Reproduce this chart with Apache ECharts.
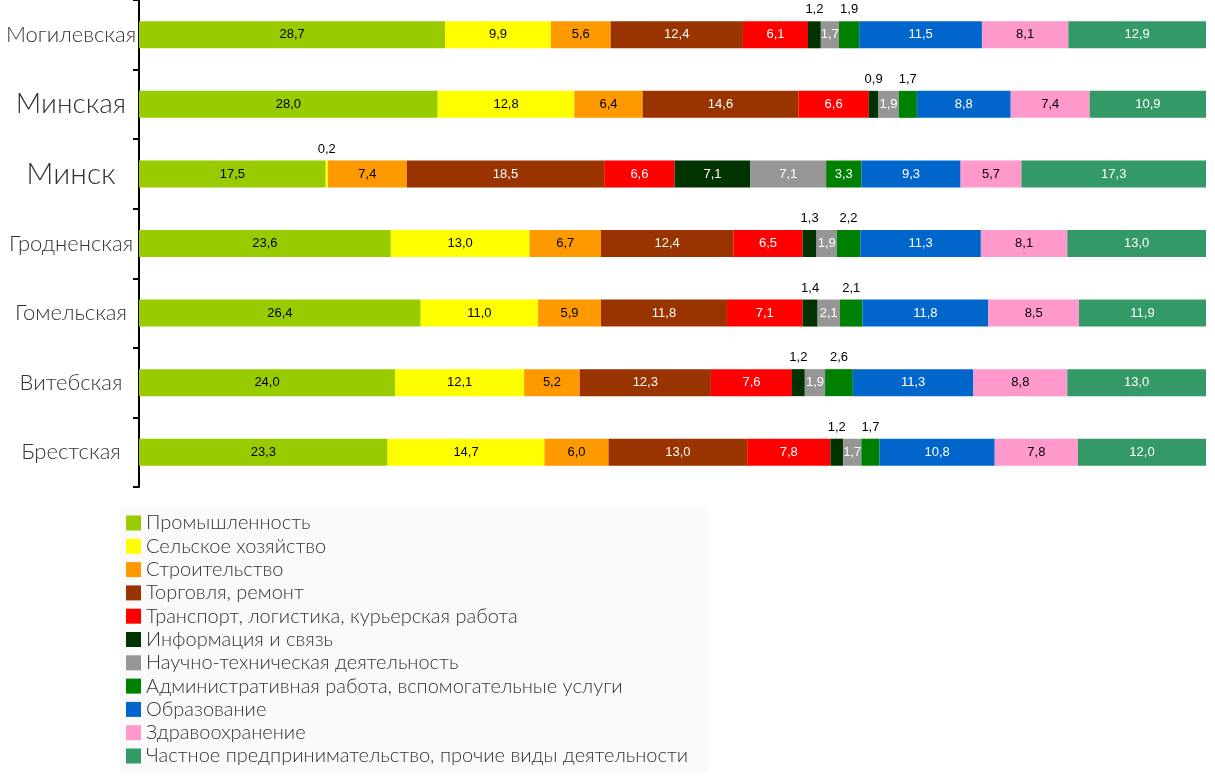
<!DOCTYPE html>
<html><head><meta charset="utf-8">
<script src="https://cdn.jsdelivr.net/npm/echarts@6/dist/echarts.min.js"></script>
<style>html,body{margin:0;padding:0;background:#fff}#c{width:1215px;height:779px}</style>
</head><body><div id="c"></div>
<script>
const categories = ['Брестская','Витебская','Гомельская','Гродненская','Минск','Минская','Могилевская'];
const seriesNames = ['Промышленность','Сельское хозяйство','Строительство','Торговля, ремонт','Транспорт, логистика, курьерская работа','Информация и связь','Научно-техническая деятельность','Административная работа, вспомогательные услуги','Образование','Здравоохранение','Частное предпринимательство, прочие виды деятельности'];
const industry  = [23.3, 24.0, 26.4, 23.6, 17.5, 28.0, 28.7];
const agri      = [14.7, 12.1, 11.0, 13.0, 0.2, 12.8, 9.9];
const constr    = [6.0, 5.2, 5.9, 6.7, 7.4, 6.4, 5.6];
const trade     = [13.0, 12.3, 11.8, 12.4, 18.5, 14.6, 12.4];
const transport = [7.8, 7.6, 7.1, 6.5, 6.6, 6.6, 6.1];
const info      = [1.2, 1.2, 1.4, 1.3, 7.1, 0.9, 1.2];
const sci       = [1.7, 1.9, 2.1, 1.9, 7.1, 1.9, 1.7];
const admin     = [1.7, 2.6, 2.1, 2.2, 3.3, 1.7, 1.9];
const edu       = [10.8, 11.3, 11.8, 11.3, 9.3, 8.8, 11.5];
const health    = [7.8, 8.8, 8.5, 8.1, 5.7, 7.4, 8.1];
const privateW  = [12.0, 13.0, 11.9, 13.0, 17.3, 10.9, 12.9];

const allValues = [industry, agri, constr, trade, transport, info, sci, admin, edu, health, privateW];
const colors = ['#99CC00','#FFFF00','#FF9900','#993300','#FF0000','#003300','#969696','#008000','#0066CC','#FF99CC','#339966'];
const labelColors = ['#000','#000','#000','#fff','#fff','#fff','#fff','#fff','#fff','#000','#fff'];
const outsideAllowed = [false,true,false,false,false,true,false,true,false,false,false];

const fmt = v => v.toFixed(1).replace('.', ',');
const bigCats = {'Минская':'b','Минск':'c'};

const series = allValues.map((vals, i) => ({
  name: seriesNames[i],
  type: 'bar',
  stack: 'all',
  barWidth: 27,
  itemStyle: {color: colors[i]},
  label: {show: true, position: 'inside', color: labelColors[i], fontFamily: 'Liberation Sans, Arial', fontSize: 13,
          formatter: p => fmt(p.value)},
  data: vals.map(v => (outsideAllowed[i] && v < 3) ? {
      value: v,
      label: {position: 'top', color: '#000', distance: 5}
    } : v)
}));

const chart = echarts.init(document.getElementById('c'));
chart.setOption({
  animation: false,
  backgroundColor: '#fff',
  grid: {left: 139, right: 9, top: 0, bottom: 292},
  xAxis: {type: 'value', min: 0, max: 100, show: false},
  yAxis: {
    type: 'category', data: categories,
    axisLine: {show: true, lineStyle: {color: '#000', width: 2}},
    axisTick: {show: true, length: 6, lineStyle: {color: '#000', width: 2}},
    axisLabel: {
      margin: 68, align: 'center', color: '#333', fontFamily: 'Lato', fontWeight: 300, fontSize: 22,
      formatter: v => bigCats[v] ? '{' + bigCats[v] + '|' + v + '}' : v,
      rich: {b: {fontSize: 28, fontFamily: 'Lato', fontWeight: 300, color: '#333'}, c: {fontSize: 30, fontFamily: 'Lato', fontWeight: 300, color: '#333'}}
    }
  },
  legend: {
    orient: 'vertical', left: 120, top: 506, height: 270,
    backgroundColor: '#fafafa', padding: [7, 20, 6, 6],
    icon: 'rect', itemWidth: 15, itemHeight: 15, itemGap: 3.3,
    textStyle: {fontFamily: 'Lato', fontWeight: 300, fontSize: 20, color: '#333'},
    data: seriesNames
  },
  series: series
});
</script></body></html>
